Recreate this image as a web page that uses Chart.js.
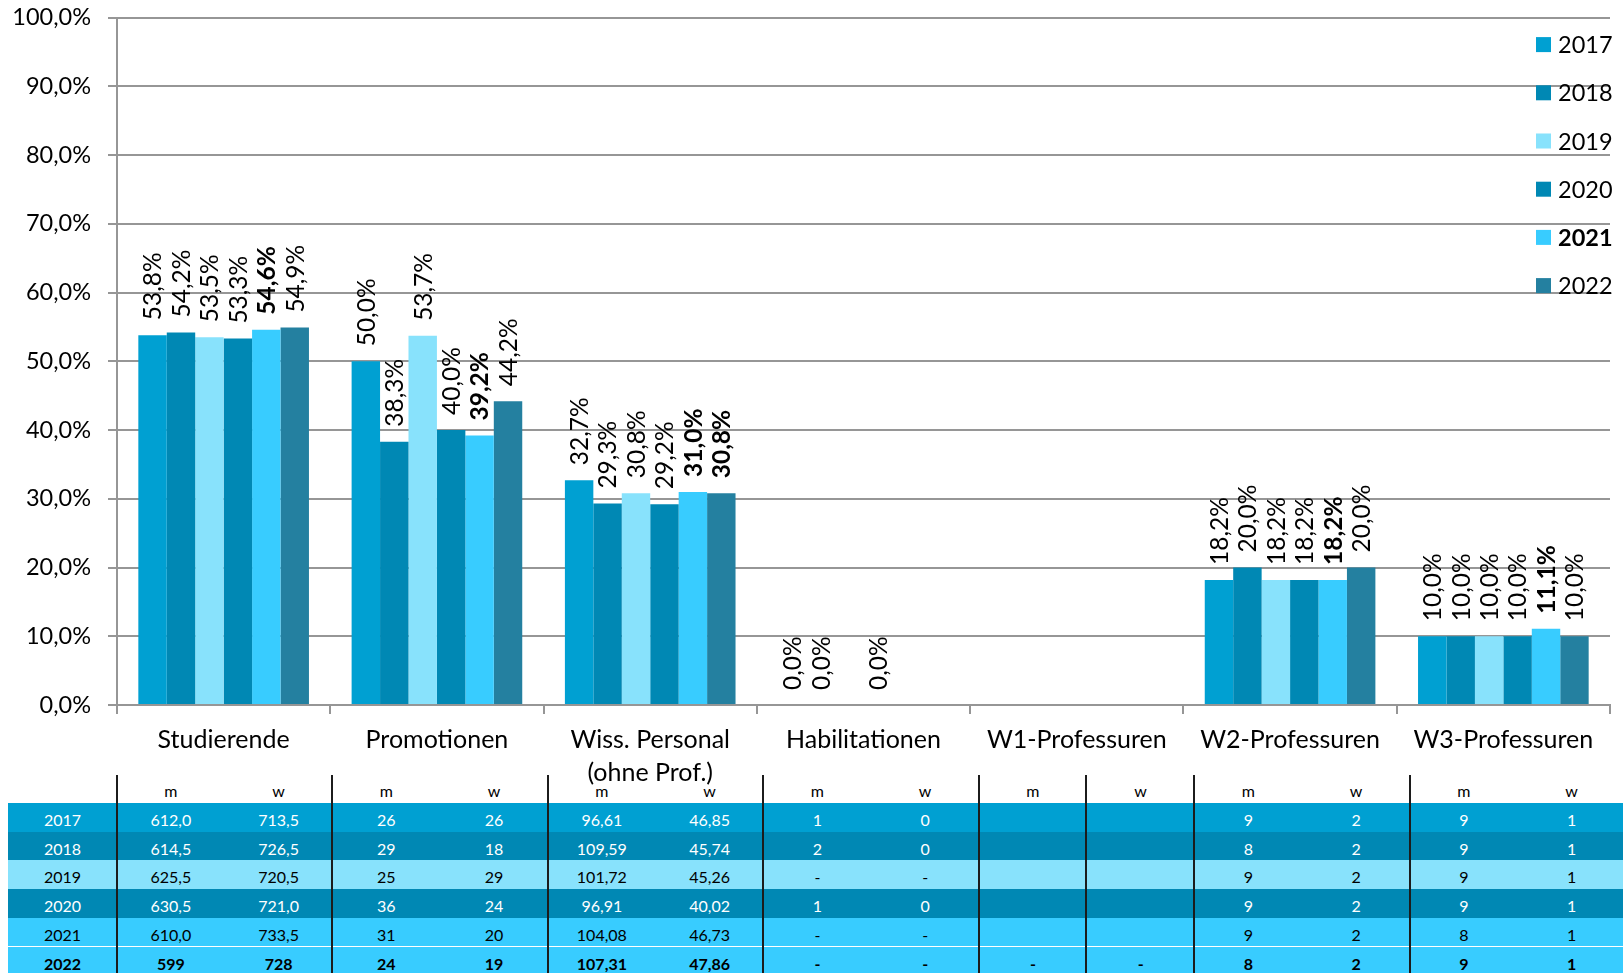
<!DOCTYPE html>
<html lang="de">
<head>
<meta charset="utf-8">
<title>Frauenanteil nach Qualifikationsstufe 2017–2022</title>
<script src="https://cdn.jsdelivr.net/npm/chart.js@4.4.1/dist/chart.umd.min.js"></script>
<style>
  html, body { margin: 0; padding: 0; background: #fff; overflow: hidden; }
  #wrap { position: relative; width: 1623px; height: 973px; overflow: hidden; font-family: Lato, "Open Sans", sans-serif; }
  #chart { position: absolute; left: 0; top: 0; z-index: 2; pointer-events: none; }
  #table { position: absolute; left: 0; top: 774px; width: 1623px; height: 199px; z-index: 1; }
  .row { position: absolute; left: 8px; width: 1640px; }
  .cell { position: absolute; top: 0; text-align: center; font-size: 16px; white-space: nowrap; }
  .divider { position: absolute; width: 2px; background: #1c1c1c; }
</style>
</head>
<body>
<div id="wrap">
  <div id="table"></div>
  <canvas id="chart" width="1623" height="800"></canvas>
</div>
<script>
// Categories along the x axis
const categories = [
  'Studierende',
  'Promotionen',
  ['Wiss. Personal', '(ohne Prof.)'],
  'Habilitationen',
  'W1-Professuren',
  'W2-Professuren',
  'W3-Professuren'
];

// Years (one bar series each)
const years = ['2017', '2018', '2019', '2020', '2021', '2022'];

// Frauenanteil in % per category
const share2017 = [53.8, 50.0, 32.7, 0.0, null, 18.2, 10.0];
const share2018 = [54.2, 38.3, 29.3, 0.0, null, 20.0, 10.0];
const share2019 = [53.5, 53.7, 30.8, null, null, 18.2, 10.0];
const share2020 = [53.3, 40.0, 29.2, 0.0, null, 18.2, 10.0];
const share2021 = [54.6, 39.2, 31.0, null, null, 18.2, 11.1];
const share2022 = [54.9, 44.2, 30.8, null, null, 20.0, 10.0];

// Y axis tick values
const yTicks = [0, 10, 20, 30, 40, 50, 60, 70, 80, 90, 100];

// Value labels printed in bold, by series index -> category indices
const boldLabels = { 4: [0, 1, 2, 5, 6], 5: [2] };
// Series whose legend entry is bold
const boldLegend = 4;

// Headcounts m / w per category, one list per year
const tableHeader = ['m', 'w', 'm', 'w', 'm', 'w', 'm', 'w', 'm', 'w', 'm', 'w', 'm', 'w'];
const counts2017 = ['612,0', '713,5', '26', '26', '96,61', '46,85', '1', '0', '', '', '9', '2', '9', '1'];
const counts2018 = ['614,5', '726,5', '29', '18', '109,59', '45,74', '2', '0', '', '', '8', '2', '9', '1'];
const counts2019 = ['625,5', '720,5', '25', '29', '101,72', '45,26', '-', '-', '', '', '9', '2', '9', '1'];
const counts2020 = ['630,5', '721,0', '36', '24', '96,91', '40,02', '1', '0', '', '', '9', '2', '9', '1'];
const counts2021 = ['610,0', '733,5', '31', '20', '104,08', '46,73', '-', '-', '', '', '9', '2', '8', '1'];
const counts2022 = ['599', '728', '24', '19', '107,31', '47,86', '-', '-', '-', '-', '8', '2', '9', '1'];

// ---- styling ----
const seriesColors = ['#00A0D2', '#0088B4', '#88E2FC', '#0088B4', '#38CCFF', '#2480A0'];
const rowColors = ['#00A0D2', '#0088B4', '#88E2FC', '#0088B4', '#38CCFF', '#38CCFF'];
const rowTextColors = ['#fff', '#fff', '#000', '#fff', '#000', '#000'];
const FONT = 'Lato, "Open Sans", sans-serif';
const GRID = '#969696';

const fmtPct = v => v.toFixed(1).replace('.', ',') + '%';

const shares = [share2017, share2018, share2019, share2020, share2021, share2022];

// Rotated value labels above each bar
const valueLabels = {
  id: 'valueLabels',
  afterDatasetsDraw(chart) {
    const ctx = chart.ctx;
    ctx.save();
    chart.data.datasets.forEach((ds, di) => {
      const meta = chart.getDatasetMeta(di);
      meta.data.forEach((bar, ci) => {
        const v = ds.data[ci];
        if (v === null || v === undefined) return;
        const bold = (boldLabels[di] || []).includes(ci);
        ctx.save();
        ctx.translate(bar.x, bar.y - 15);
        ctx.rotate(-Math.PI / 2);
        ctx.font = (bold ? 'bold ' : '') + '24.5px ' + FONT;
        ctx.fillStyle = '#000';
        ctx.textAlign = 'left';
        ctx.textBaseline = 'middle';
        ctx.fillText(fmtPct(v), 0, 1);
        ctx.restore();
      });
    });
    ctx.restore();
  }
};

// Legend stacked at the upper right, drawn over the grid
const sideLegend = {
  id: 'sideLegend',
  afterDraw(chart) {
    const ctx = chart.ctx;
    const area = chart.chartArea;
    ctx.save();
    chart.data.datasets.forEach((ds, i) => {
      const cy = area.top + 27 + i * 48.2;
      ctx.fillStyle = ds.backgroundColor;
      ctx.fillRect(area.right - 74, cy - 7.5, 15, 15);
      ctx.fillStyle = '#000';
      ctx.font = (i === boldLegend ? 'bold ' : '') + '23.5px ' + FONT;
      ctx.textAlign = 'left';
      ctx.textBaseline = 'middle';
      ctx.fillText(ds.label, area.right - 52, cy + 1);
    });
    ctx.restore();
  }
};

new Chart(document.getElementById('chart'), {
  type: 'bar',
  data: {
    labels: categories,
    datasets: years.map((y, i) => ({
      label: y,
      data: shares[i],
      backgroundColor: seriesColors[i],
      borderWidth: 0,
      categoryPercentage: 0.8,
      barPercentage: 1.0
    }))
  },
  options: {
    responsive: false,
    animation: false,
    devicePixelRatio: 1,
    layout: { padding: { left: 0, top: 17.6, right: 13, bottom: 0 } },
    plugins: {
      legend: { display: false },
      tooltip: { enabled: false }
    },
    scales: {
      x: {
        afterFit(scale) { scale.height = 95; },
        grid: {
          offset: true,
          drawOnChartArea: false,
          drawTicks: true,
          tickLength: 9,
          color: GRID,
          lineWidth: 2
        },
        border: { display: true, color: GRID, width: 2 },
        ticks: {
          autoSkip: false,
          maxRotation: 0,
          padding: 10,
          color: '#000',
          font: { family: FONT, size: 25, lineHeight: 1.3 }
        }
      },
      y: {
        min: 0,
        max: 100,
        afterFit(scale) {
          scale.width = 117;
          scale.paddingTop = 0;
          scale.paddingBottom = 0;
        },
        afterBuildTicks(scale) { scale.ticks = yTicks.map(v => ({ value: v })); },
        grid: { color: GRID, lineWidth: 2, tickLength: 9, drawTicks: true },
        border: { display: true, color: GRID, width: 2 },
        ticks: {
          padding: 17,
          color: '#000',
          font: { family: FONT, size: 23.5 },
          callback: v => fmtPct(v)
        }
      }
    }
  },
  plugins: [valueLabels, sideLegend]
});

// ---- data table below the chart ----
(function buildTable() {
  const host = document.getElementById('table');
  const firstColW = 109;       // year column (x 8 .. 117)
  const groupW = 215.5;        // one category = m + w
  const halfW = groupW / 2;
  const headerH = 29;
  const rowH = 28.7;
  const rows = [counts2017, counts2018, counts2019, counts2020, counts2021, counts2022];

  function addRow(top, height, bg, color, bold, first, values, textShift) {
    const r = document.createElement('div');
    r.className = 'row';
    r.style.top = top + 'px';
    r.style.height = height + 'px';
    if (bg) r.style.background = bg;
    const mk = (left, width, text) => {
      const c = document.createElement('div');
      c.className = 'cell';
      c.style.left = left + 'px';
      c.style.top = textShift + 'px';
      c.style.width = width + 'px';
      c.style.height = height + 'px';
      c.style.lineHeight = height + 'px';
      c.style.color = color;
      if (bold) c.style.fontWeight = 'bold';
      c.textContent = text;
      r.appendChild(c);
    };
    mk(0, firstColW, first);
    values.forEach((t, i) => mk(firstColW + i * halfW, halfW, t));
    host.appendChild(r);
  }

  addRow(0, headerH, null, '#000', false, '', tableHeader, 2);
  rows.forEach((vals, i) => {
    addRow(headerH + i * rowH, rowH, rowColors[i], rowTextColors[i], i === rows.length - 1, years[i], vals, 3);
  });

  // vertical separators between category blocks (W1 also split into m | w)
  const xs = [];
  for (let g = 0; g < categories.length; g++) xs.push(8 + firstColW + g * groupW);
  xs.push(8 + firstColW + 4 * groupW + halfW);
  xs.forEach(x => {
    const d = document.createElement('div');
    d.className = 'divider';
    d.style.left = (x - 1.5) + 'px';
    d.style.top = '1px';
    d.style.height = '200px';
    host.appendChild(d);
  });
})();
</script>
</body>
</html>
